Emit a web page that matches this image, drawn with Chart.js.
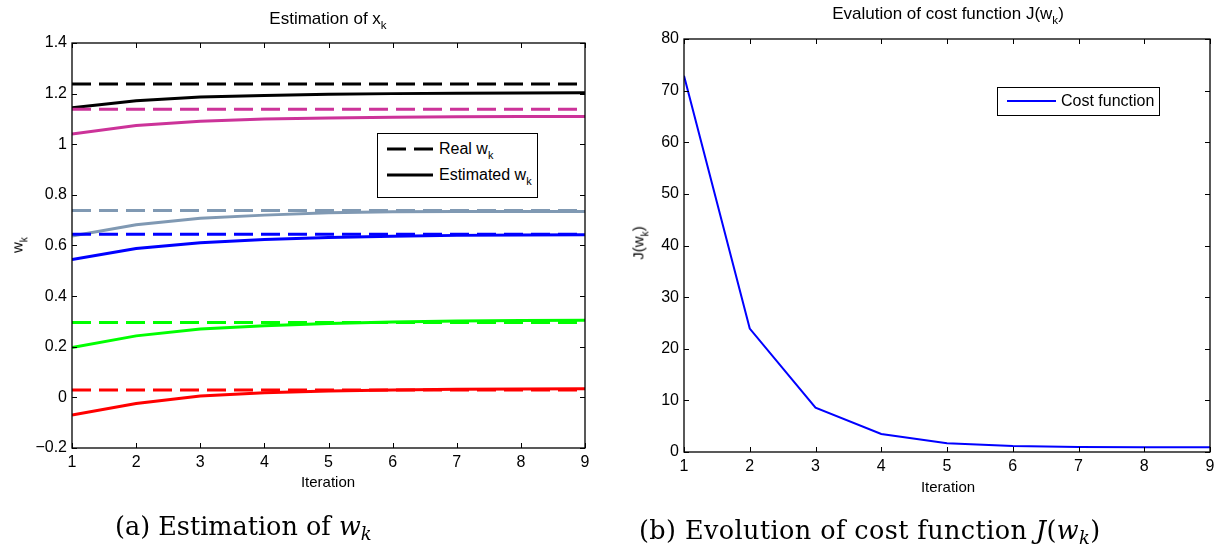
<!DOCTYPE html>
<html>
<head>
<meta charset="utf-8">
<script src="https://cdn.jsdelivr.net/npm/chart.js@4.4.1/dist/chart.umd.min.js"></script>
<style>
  body { margin:0; width:1227px; height:552px; background:#fff; position:relative; overflow:hidden;
         font-family:"Liberation Sans", Arial, sans-serif; color:#000; }
  canvas { position:absolute; top:0; }
  .lbl { position:absolute; white-space:nowrap; transform:translate(-50%,-50%); line-height:1; }
  .sub { font-size:0.68em; position:relative; top:0.45em; }
  .legend { position:absolute; border:1px solid #000; background:#fff; box-sizing:border-box; }
  .legtxt { position:absolute; white-space:nowrap; font-size:16px; line-height:1; transform:translateY(-50%); }
  .cap { position:absolute; white-space:nowrap; font-family:"DejaVu Serif", serif; font-size:25.5px; line-height:1; transform:translateY(-50%); }
  .cap sub { font-size:0.7em; vertical-align:-0.25em; line-height:0; }
</style>
</head>
<body>

<canvas id="leftChart" width="610" height="500" style="left:0"></canvas>
<canvas id="rightChart" width="607" height="500" style="left:620px"></canvas>

<!-- titles and axis labels -->
<div class="lbl" style="left:328px;top:18px;font-size:17px">Estimation of x<span class="sub">k</span></div>
<div class="lbl" style="left:328px;top:481px;font-size:15px">Iteration</div>
<div class="lbl" style="left:17px;top:245px;font-size:15px;transform:translate(-50%,-50%) rotate(-90deg)">w<span class="sub">k</span></div>

<div class="lbl" style="left:948px;top:13px;font-size:17px">Evalution of cost function J(w<span class="sub">k</span>)</div>
<div class="lbl" style="left:948px;top:486px;font-size:15px">Iteration</div>
<div class="lbl" style="left:638px;top:243px;font-size:15px;transform:translate(-50%,-50%) rotate(-90deg)">J(w<span class="sub">k</span>)</div>

<!-- legends -->
<div class="legend" style="left:377px;top:133px;width:161px;height:65px"></div>
<svg style="position:absolute;left:0;top:0" width="1227" height="552">
  <line x1="387" y1="149" x2="433" y2="149" stroke="#000" stroke-width="3" stroke-dasharray="19,8"/>
  <line x1="387" y1="175" x2="433" y2="175" stroke="#000" stroke-width="3"/>
</svg>
<div class="legtxt" style="left:439px;top:149px">Real w<span class="sub">k</span></div>
<div class="legtxt" style="left:439px;top:175px">Estimated w<span class="sub">k</span></div>

<div class="legend" style="left:997px;top:87px;width:163px;height:29px"></div>
<svg style="position:absolute;left:0;top:0" width="1227" height="552">
  <line x1="1007" y1="101" x2="1056" y2="101" stroke="#0000ff" stroke-width="2"/>
</svg>
<div class="legtxt" style="left:1061px;top:101px">Cost function</div>

<!-- captions -->
<div class="cap" style="left:115px;top:527px">(a) Estimation of <i>w</i><sub><i>k</i></sub></div>
<div class="cap" style="left:639px;top:531px;letter-spacing:0.4px">(b) Evolution of cost function <i>J</i>(<i>w</i><sub><i>k</i></sub>)</div>

<script>
// iterations on the x axis
const iterations = [1, 2, 3, 4, 5, 6, 7, 8, 9];
const xTickLabels = ['1', '2', '3', '4', '5', '6', '7', '8', '9'];

// real weights (dashed) and the estimates per iteration (solid)
const realW = [1.238, 1.138, 0.738, 0.644, 0.296, 0.029];
const estBlack = [1.144, 1.172, 1.187, 1.193, 1.198, 1.200, 1.201, 1.202, 1.203];
const estMagenta = [1.040, 1.074, 1.091, 1.100, 1.104, 1.107, 1.109, 1.110, 1.110];
const estGray = [0.637, 0.682, 0.708, 0.720, 0.729, 0.733, 0.734, 0.734, 0.734];
const estBlue = [0.545, 0.588, 0.611, 0.624, 0.632, 0.637, 0.640, 0.641, 0.642];
const estGreen = [0.197, 0.243, 0.270, 0.283, 0.292, 0.298, 0.302, 0.304, 0.305];
const estRed = [-0.070, -0.024, 0.005, 0.018, 0.025, 0.029, 0.032, 0.033, 0.034];

// cost function J(w_k)
const costJ = [72.9, 23.9, 8.6, 3.5, 1.7, 1.15, 0.95, 0.9, 0.9];

// tick values / labels
const leftYTicks = [-0.2, 0, 0.2, 0.4, 0.6, 0.8, 1, 1.2, 1.4];
const leftYLabels = ['\u22120.2', '0', '0.2', '0.4', '0.6', '0.8', '1', '1.2', '1.4'];
const rightYTicks = [0, 10, 20, 30, 40, 50, 60, 70, 80];
const rightYLabels = ['0', '10', '20', '30', '40', '50', '60', '70', '80'];

const weightColors = ['#000000', '#cc3399', '#8099b3', '#0000ff', '#00ff00', '#ff0000'];
const estimates = [estBlack, estMagenta, estGray, estBlue, estGreen, estRed];

Chart.defaults.font.family = '"Liberation Sans", Arial, sans-serif';
Chart.defaults.color = '#000';

// matlab style box with inward ticks
const boxTicks = {
  id: 'boxTicks',
  afterDraw(chart) {
    const ctx = chart.ctx;
    const a = chart.chartArea;
    const x = chart.scales.x, y = chart.scales.y;
    ctx.save();
    ctx.strokeStyle = '#000';
    ctx.lineWidth = 1;
    ctx.beginPath();
    x.ticks.forEach(t => {
      const px = Math.round(x.getPixelForValue(t.value)) + 0.5;
      ctx.moveTo(px, a.bottom); ctx.lineTo(px, a.bottom - 5);
      ctx.moveTo(px, a.top); ctx.lineTo(px, a.top + 5);
    });
    y.ticks.forEach(t => {
      const py = Math.round(y.getPixelForValue(t.value)) + 0.5;
      ctx.moveTo(a.left, py); ctx.lineTo(a.left + 5, py);
      ctx.moveTo(a.right, py); ctx.lineTo(a.right - 5, py);
    });
    ctx.stroke();
    ctx.lineWidth = 1.3;
    ctx.strokeRect(a.left, a.top, a.right - a.left, a.bottom - a.top);
    ctx.restore();
  }
};

function makeScales(yTicks, yLabels, yWidth, xHeight) {
  return {
    x: {
      type: 'linear', min: iterations[0], max: iterations[iterations.length - 1],
      grid: { drawOnChartArea: false, drawTicks: false },
      border: { display: false },
      afterBuildTicks: s => { s.ticks = iterations.map(v => ({ value: v })); },
      afterFit: s => { s.height = xHeight; },
      ticks: { font: { size: 16 }, padding: 5, maxRotation: 0, autoSkip: false,
               callback: (v, i) => xTickLabels[i] }
    },
    y: {
      min: yTicks[0], max: yTicks[yTicks.length - 1],
      grid: { drawOnChartArea: false, drawTicks: false },
      border: { display: false },
      afterBuildTicks: s => { s.ticks = yTicks.map(v => ({ value: v })); },
      afterFit: s => { s.width = yWidth; },
      ticks: { font: { size: 16 }, padding: 5, autoSkip: false,
               callback: (v, i) => yLabels[i] }
    }
  };
}

// left chart: estimation of w_k
const leftSets = [];
realW.forEach((v, i) => {
  leftSets.push({
    data: [{ x: iterations[0], y: v }, { x: iterations[iterations.length - 1], y: v }],
    borderColor: weightColors[i], borderWidth: 3, borderDash: [19, 8]
  });
});
estimates.forEach((arr, i) => {
  leftSets.push({
    data: iterations.map((it, j) => ({ x: it, y: arr[j] })),
    borderColor: weightColors[i], borderWidth: 3
  });
});

new Chart(document.getElementById('leftChart'), {
  type: 'line',
  data: { datasets: leftSets },
  options: {
    responsive: false, animation: false,
    layout: { padding: { top: 43, right: 25, bottom: 0, left: 0 } },
    elements: { point: { radius: 0 }, line: { tension: 0, fill: false } },
    plugins: { legend: { display: false }, title: { display: false }, tooltip: { enabled: false } },
    scales: makeScales(leftYTicks, leftYLabels, 72, 52)
  },
  plugins: [boxTicks]
});

// right chart: cost function
new Chart(document.getElementById('rightChart'), {
  type: 'line',
  data: {
    datasets: [{
      label: 'Cost function',
      data: iterations.map((it, j) => ({ x: it, y: costJ[j] })),
      borderColor: '#0000ff', borderWidth: 2
    }]
  },
  options: {
    responsive: false, animation: false,
    layout: { padding: { top: 39, right: 17, bottom: 0, left: 0 } },
    elements: { point: { radius: 0 }, line: { tension: 0, fill: false } },
    plugins: { legend: { display: false }, title: { display: false }, tooltip: { enabled: false } },
    scales: makeScales(rightYTicks, rightYLabels, 64, 48)
  },
  plugins: [boxTicks]
});
</script>
</body>
</html>
